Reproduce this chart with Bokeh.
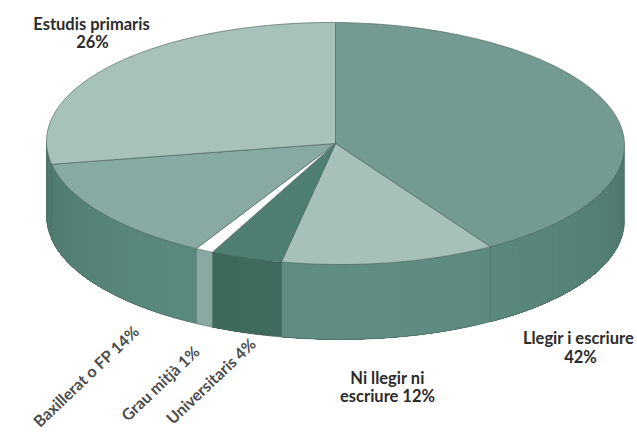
import numpy as np
from bokeh.core.properties import value
from bokeh.embed import file_html
from bokeh.models import ColumnDataSource
from bokeh.plotting import figure
from bokeh.resources import INLINE

# Education level shares, in percent, clockwise from twelve o'clock
categories = ["Llegir i escriure", "Ni llegir ni escriure", "Universitaris",
              "Grau mitjà", "Baxillerat o FP", "Estudis primaris"]
percentages = [42, 12, 4, 1, 14, 26]
top_colors = ["#739b92", "#a8c0ba", "#4f7e72", "#ffffff", "#88aaa2", "#a7c1bb"]
side_colors = ["#5c8b7f", "#5f8d81", "#3f6b5f", "#8aaca4", "#5c8c80", "#5c8c80"]
edge_color = "#4a625c"

W, H = 637, 435
CX, CY = 335, 143
RX, RY = 289, 121
TILT = 2
DEPTH = 75


def rim(pct):
    theta = np.radians(np.asarray(pct, dtype=float) * 3.6)
    return CX + RX * np.sin(theta), CY - RY * np.cos(theta) + TILT * np.sin(theta)


def shaded(color, pct):
    # The wall darkens a little as it turns away towards the sides
    rgb = np.array([int(color[i:i + 2], 16) for i in (1, 3, 5)], dtype=float)
    rgb *= 1 - 0.16 * (abs(pct - 50) / 25) ** 2
    return "#%02x%02x%02x" % tuple(int(round(c)) for c in rgb)


# The labelled shares add up to 99, so the missing point sits in the last slice
edges = np.concatenate([[0], np.cumsum(percentages) - 1.0])
edges[-1] = 100

p = figure(width=W, height=H, x_range=(0, W), y_range=(H, 0),
           output_backend="svg", toolbar_location=None, min_border=0,
           outline_line_color=None, background_fill_color="white",
           border_fill_color="white")
p.axis.visible = False
p.grid.visible = False

# Outer wall along the front half of the rim. Each strip runs on to the end of
# its slice and the next one paints over it, which leaves no seams between them.
for start, end, color in zip(edges[:-1], edges[1:], side_colors):
    lo, hi = max(start, 25.0), min(end, 75.0)
    if hi <= lo:
        continue
    steps = np.linspace(lo, hi, max(2, int((hi - lo) * 2) + 1))
    for a, b in zip(steps[:-1], steps[1:]):
        t = np.linspace(a, hi, 40)
        x, y = rim(t)
        p.patch(np.r_[x, x[::-1]], np.r_[y, y[::-1] + DEPTH],
                fill_color=shaded(color, (a + b) / 2), line_color=None)
    # Slice borders on the wall and its lower outline
    t = np.linspace(lo, hi, 60)
    x, y = rim(t)
    p.line(x, y + DEPTH, line_color=edge_color, line_width=0.8, line_alpha=0.7)
    for q in (lo, hi):
        ex, ey = rim(q)
        p.line([ex, ex], [ey, ey + DEPTH], line_color=edge_color, line_width=0.6, line_alpha=0.5)

# Top face
for start, end, color in zip(edges[:-1], edges[1:], top_colors):
    t = np.linspace(start, end, 120)
    x, y = rim(t)
    p.patch(np.r_[CX, x], np.r_[CY, y], fill_color=color,
            line_color=edge_color, line_width=0.8, line_alpha=0.8)

font = value("Lato")
labels = ColumnDataSource(dict(
    x=[91, 92, 578, 580, 387, 387],
    y=[23, 41, 337, 356, 377, 395],
    t=["Estudis primaris", "26%", "Llegir i escriure", "42%", "Ni llegir ni", "escriure 12%"],
))
p.text("x", "y", text="t", source=labels, text_font=font, text_font_size="16.5px",
       text_font_style="bold", text_color="#2b2b2b", text_align="center",
       text_baseline="middle")

slanted = ColumnDataSource(dict(
    x=[35, 123, 168],
    y=[423, 417, 420],
    t=["Baxillerat o FP 14%", "Grau mitjà 1%", "Universitaris 4%"],
))
p.text("x", "y", text="t", source=slanted, text_font=font, text_font_size="16px",
       text_font_style="bold", text_color="#4a4d4c", text_align="left",
       text_baseline="middle", angle=np.radians(43.5))

open("out.html", "w").write(file_html(p, INLINE))
